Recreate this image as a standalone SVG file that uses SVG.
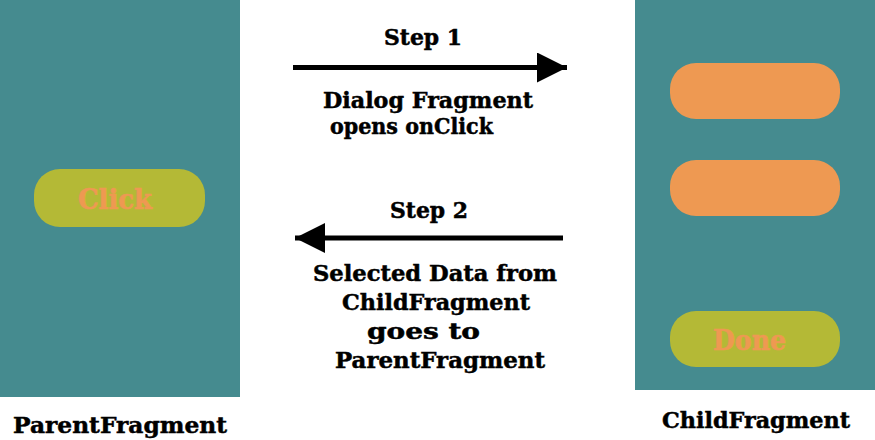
<svg xmlns="http://www.w3.org/2000/svg" width="875" height="440" viewBox="0 0 875 440">
<style>
.panel{fill:#458B8F}
.btn-g{fill:#B4B936}
.btn-o{fill:#EE9952}
.t{font-family:"DejaVu Serif","Liberation Serif",serif;font-weight:bold;fill:#000;stroke:#000;stroke-width:0.5;text-anchor:middle;font-size:22px}
.bt{font-family:"DejaVu Serif","Liberation Serif",serif;font-weight:bold;fill:#EE9952;stroke:#EE9952;stroke-width:0.6;text-anchor:middle;font-size:27px}
.ln{stroke:#000;stroke-width:5;fill:none}
</style>
<defs>
<marker id="ah" markerUnits="userSpaceOnUse" viewBox="0 0 30 30" refX="30" refY="15" markerWidth="30" markerHeight="30" orient="auto">
<path d="M0,0 L30,15 L0,30 Z" fill="#000"/>
</marker>
</defs>
<rect width="875" height="440" fill="#fff"/>
<g id="parent-fragment">
<rect class="panel" x="0" y="0" width="240" height="397"/>
<g id="click-button">
<rect class="btn-g" x="34" y="169" width="171" height="58" rx="26"/>
<text class="bt" x="115" y="209" textLength="74" lengthAdjust="spacingAndGlyphs">Click</text>
</g>
<text class="t" x="120" y="433" textLength="214" lengthAdjust="spacingAndGlyphs">ParentFragment</text>
</g>
<g id="child-fragment">
<rect class="panel" x="635" y="0" width="240" height="390"/>
<rect class="btn-o" x="670" y="63" width="170" height="56" rx="26"/>
<rect class="btn-o" x="670" y="160" width="170" height="56" rx="26"/>
<g id="done-button">
<rect class="btn-g" x="670" y="311" width="170" height="56" rx="26"/>
<text class="bt" x="749.500" y="350" textLength="73" lengthAdjust="spacingAndGlyphs">Done</text>
</g>
<text class="t" x="756" y="428" textLength="188" lengthAdjust="spacingAndGlyphs">ChildFragment</text>
</g>
<g id="connectors">
<g id="step1">
<line class="ln" x1="293" y1="67.500" x2="567" y2="67.500" marker-end="url(#ah)"/>
<text class="t" x="423" y="45" textLength="78" lengthAdjust="spacingAndGlyphs">Step 1</text>
<text class="t" x="428" y="108" textLength="210" lengthAdjust="spacingAndGlyphs">Dialog Fragment</text>
<text class="t" x="411.500" y="134" textLength="163" lengthAdjust="spacingAndGlyphs">opens onClick</text>
</g>
<g id="step2">
<line class="ln" x1="563" y1="238" x2="295" y2="238" marker-end="url(#ah)"/>
<text class="t" x="429" y="218" textLength="78" lengthAdjust="spacingAndGlyphs">Step 2</text>
<text class="t" x="435" y="281" textLength="244" lengthAdjust="spacingAndGlyphs">Selected Data from</text>
<text class="t" x="436" y="310" textLength="188" lengthAdjust="spacingAndGlyphs">ChildFragment</text>
<text class="t" x="423.500" y="339" textLength="113" lengthAdjust="spacingAndGlyphs">goes to</text>
<text class="t" x="440" y="368" textLength="210" lengthAdjust="spacingAndGlyphs">ParentFragment</text>
</g>
</g>
</svg>
